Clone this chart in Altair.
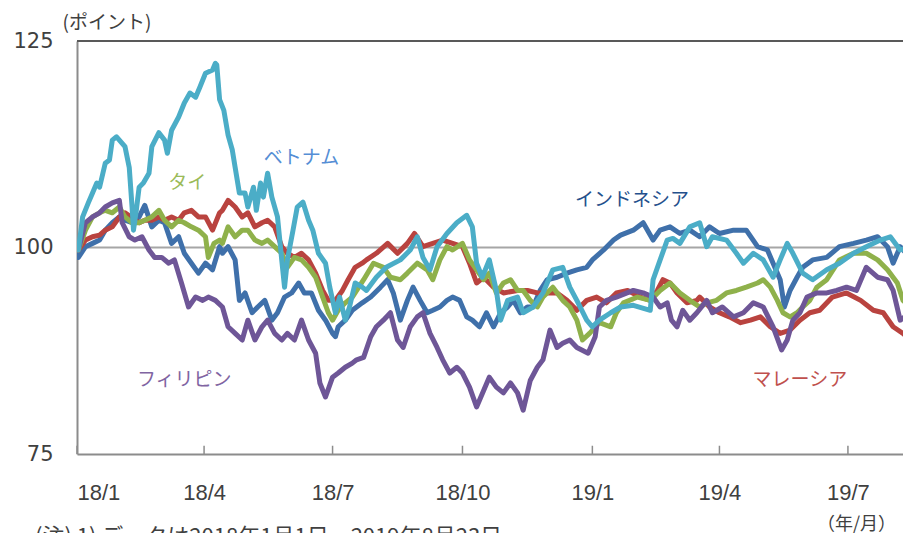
import altair as alt
import pandas as pd

# (days since 2018-01-01, index value)
vietnam = [(0,100.0),(1,99.7),(4,103.7),(8,105.4),(11,106.6),(14,107.8),(16,107.3),(20,110.2),(23,110.6),(25,113.0),(28,113.4),(32,112.6),(34,112.2),(37,109.7),(39,104.9),(40,102.1),(42,104.5),(44,107.3),(47,107.8),(51,109.0),(53,112.2),(58,113.9),(62,113.0),(64,111.4),(67,114.2),(72,115.8),(76,117.5),(80,118.7),(84,118.2),(87,119.4),(91,121.1),(96,121.5),(98,122.3),(99,122.1),(101,117.9),(104,116.6),(107,113.6),(110,111.8),(112,109.7),(115,106.6),(119,106.6),(121,104.9),(125,107.3),(127,104.5),(130,107.8),(132,106.1),(135,109.0),(138,106.1),(142,103.7),(145,98.5),(147,95.2),(149,98.5),(153,102.1),(156,104.9),(160,105.5),(164,103.3),(167,102.1),(171,99.3),(176,98.1),(179,95.2),(183,92.1),(186,94.0),(190,91.2),(193,92.8),(197,95.7),(202,95.2),(205,94.8),(212,96.4),(219,97.6),(229,98.5),(236,99.7),(241,101.3),(245,98.8),(250,97.3),(255,100.1),(262,101.7),(269,103.0),(276,103.9),(280,102.5),(283,98.1),(287,96.4),(292,98.5),(297,94.8),(300,91.2),(305,93.6),(312,94.0),(316,92.1),(323,92.8),(330,94.5),(337,97.3),(344,97.6),(349,95.2),(354,93.6),(361,91.2),(365,90.4),(370,91.2),(378,92.1),(385,92.8),(394,93.0),(406,92.4),(408,96.1),(413,98.5),(418,100.9),(422,101.1),(427,100.5),(434,102.5),(441,103.0),(446,100.1),(450,101.3),(460,100.9),(467,99.3),(472,98.1),(479,99.3),(486,98.5),(493,96.4),(498,98.5),(503,100.5),(507,99.3),(514,96.9),(521,96.1),(531,97.3),(540,98.1),(550,99.3),(559,100.1),(569,100.9),(576,101.3),(583,99.7),(590,100.1)]

indonesia = [(0,100.0),(1,98.8),(6,100.1),(11,100.5),(16,100.9),(20,102.1),(25,103.0),(30,103.7),(34,103.3),(39,103.0),(44,103.7),(48,105.1),(53,102.5),(58,103.3),(62,103.0),(67,100.5),(72,101.3),(76,99.3),(81,98.1),(86,96.9),(91,98.1),(96,97.3),(101,100.1),(103,99.3),(107,100.1),(112,98.5),(115,93.6),(119,94.5),(124,92.1),(128,92.8),(133,93.6),(138,91.2),(142,92.1),(147,94.0),(152,94.5),(157,95.7),(161,94.5),(166,94.5),(171,92.4),(176,91.2),(181,89.6),(183,89.2),(185,90.4),(190,91.2),(195,92.4),(202,93.3),(208,94.0),(215,95.2),(220,96.1),(224,94.5),(229,91.2),(234,93.6),(238,95.2),(243,93.6),(248,92.1),(252,92.4),(257,92.8),(262,93.6),(266,94.0),(271,93.6),(276,91.6),(280,91.2),(285,90.4),(290,92.1),(295,90.4),(300,92.1),(305,92.8),(309,93.6),(314,92.1),(319,92.8),(323,92.8),(328,94.8),(333,96.1),(340,96.4),(347,96.9),(354,97.3),(361,97.6),(365,98.5),(373,99.7),(380,100.9),(385,101.5),(394,102.1),(401,103.0),(408,100.9),(413,102.1),(420,102.5),(427,101.7),(434,102.1),(441,101.3),(448,102.5),(455,101.7),(465,102.1),(474,102.1),(482,100.1),(489,99.7),(493,98.1),(498,96.1),(501,92.8),(505,94.8),(510,96.4),(514,97.6),(521,98.5),(531,98.8),(540,100.1),(550,100.5),(559,100.9),(567,101.3),(574,100.1),(578,98.1),(583,100.1),(590,98.8)]

thailand = [(0,100.0),(1,99.7),(6,102.1),(11,103.7),(16,104.2),(20,104.5),(25,104.2),(30,104.9),(34,103.7),(39,103.0),(44,103.0),(48,103.3),(53,103.7),(58,104.5),(62,103.3),(67,102.5),(72,103.3),(76,103.0),(81,102.5),(86,102.1),(91,101.3),(93,98.8),(97,100.5),(101,100.9),(103,100.5),(107,102.5),(112,101.3),(117,102.1),(121,102.1),(126,100.9),(131,100.5),(135,100.9),(140,100.1),(145,99.3),(149,97.6),(154,98.8),(159,98.5),(164,97.6),(169,96.4),(174,94.0),(178,92.1),(181,91.2),(185,92.4),(190,93.3),(195,94.0),(203,96.1),(210,98.1),(217,97.6),(222,96.4),(229,96.1),(234,96.9),(241,98.1),(248,97.3),(252,96.1),(257,98.5),(262,100.1),(266,99.7),(273,100.5),(278,98.5),(283,97.3),(288,96.1),(292,96.9),(297,94.5),(302,95.7),(307,96.1),(312,94.8),(316,94.8),(321,93.6),(326,92.8),(330,94.0),(337,95.2),(344,93.6),(349,92.8),(354,91.2),(358,88.8),(363,89.6),(370,90.9),(378,90.4),(382,92.1),(387,93.3),(397,94.0),(406,93.6),(413,94.8),(420,95.7),(427,94.5),(434,93.6),(441,92.8),(446,93.3),(453,93.6),(460,94.5),(467,94.8),(474,95.2),(482,95.7),(486,96.1),(491,95.2),(496,93.6),(500,92.1),(505,91.6),(510,92.1),(514,92.8),(519,93.6),(524,95.2),(531,96.1),(540,98.5),(550,99.3),(559,99.3),(567,98.5),(574,97.3),(581,95.7),(585,93.6),(590,92.8)]

malaysia = [(0,100.0),(1,99.7),(6,100.9),(11,101.3),(16,101.5),(20,102.1),(25,102.5),(30,103.7),(34,104.2),(39,103.6),(44,103.0),(48,103.3),(53,103.3),(58,103.7),(62,103.3),(67,103.7),(72,103.3),(76,104.2),(81,104.5),(86,103.7),(91,103.7),(96,102.1),(101,104.2),(103,104.5),(107,105.7),(112,104.9),(117,103.7),(121,104.2),(126,102.5),(131,103.0),(135,103.3),(140,102.5),(145,100.1),(149,99.3),(154,98.8),(159,99.3),(164,98.5),(169,96.9),(174,94.8),(178,93.6),(183,93.6),(188,94.8),(192,96.1),(197,97.6),(202,98.1),(205,98.5),(212,99.3),(220,100.5),(227,99.3),(234,100.5),(239,101.7),(245,100.1),(252,100.5),(259,100.9),(266,100.5),(273,100.1),(278,98.1),(283,95.7),(288,96.4),(295,95.2),(302,94.5),(312,94.8),(319,94.8),(326,94.5),(333,94.5),(340,94.5),(347,93.6),(354,92.4),(361,93.6),(368,94.0),(375,93.3),(382,94.5),(390,94.8),(399,94.0),(406,93.6),(411,94.8),(415,96.1),(420,95.7),(425,94.5),(432,93.3),(439,93.6),(441,94.0),(448,92.8),(455,92.1),(462,91.6),(470,90.9),(477,91.2),(484,91.6),(491,90.4),(498,89.6),(505,90.0),(512,91.2),(519,92.1),(526,92.4),(535,94.0),(545,94.5),(555,93.6),(564,92.4),(571,92.1),(578,90.4),(585,89.6),(590,88.8)]

philippines = [(0,100.0),(1,99.7),(6,103.0),(11,103.7),(16,104.2),(20,104.9),(25,105.4),(30,105.7),(32,103.0),(37,101.3),(41,100.9),(46,101.3),(51,99.7),(55,98.8),(60,98.8),(65,98.1),(69,98.5),(74,95.7),(79,92.8),(84,94.0),(89,93.6),(93,94.0),(98,93.6),(103,92.8),(107,90.4),(112,89.6),(117,88.8),(121,91.2),(126,88.8),(131,90.4),(135,91.2),(140,89.6),(145,88.8),(149,89.6),(154,88.8),(159,91.2),(164,88.8),(169,87.2),(172,83.6),(176,81.9),(181,84.3),(185,84.8),(190,85.5),(195,86.0),(198,86.4),(203,86.7),(208,89.2),(212,90.4),(217,91.2),(222,92.1),(227,88.8),(231,87.9),(236,90.4),(241,91.6),(245,92.1),(250,89.6),(255,87.9),(259,86.4),(264,84.8),(269,85.5),(273,84.8),(278,83.1),(283,80.7),(288,82.7),(292,84.3),(297,83.1),(302,82.4),(307,83.6),(312,82.4),(316,80.3),(321,83.9),(326,85.5),(330,86.4),(335,90.0),(340,87.9),(344,88.4),(349,88.8),(354,87.9),(362,87.2),(367,89.2),(370,92.8),(375,93.6),(382,94.0),(394,94.8),(401,94.5),(408,94.0),(413,92.8),(418,93.3),(421,91.2),(425,90.4),(429,92.4),(434,91.2),(439,92.1),(446,93.6),(450,92.1),(457,92.8),(465,91.6),(472,92.1),(479,93.3),(486,92.8),(493,90.4),(499,87.6),(503,88.8),(507,91.2),(512,92.1),(517,94.0),(524,94.5),(531,94.5),(538,94.8),(545,95.2),(552,94.8),(559,97.6),(567,96.4),(574,96.1),(578,94.8),(583,91.2),(590,92.1)]

series_names = ["インドネシア", "マレーシア", "タイ", "フィリピン", "ベトナム"]
series_data = [indonesia, malaysia, thailand, philippines, vietnam]
series_colors = ["#3F70AA", "#B9433F", "#8FB14B", "#6E5697", "#4BADC7"]

label_texts = ["ベトナム", "タイ", "インドネシア", "フィリピン", "マレーシア"]
label_days = [159, 78, 393, 76, 512]
label_values = [110.8, 107.8, 105.7, 83.9, 83.9]
label_colors = ["#558ED5", "#9BBB59", "#24508C", "#8064A2", "#C0504D"]

tick_dates = ["2018-01-01", "2018-04-01", "2018-07-01", "2018-10-01",
              "2019-01-01", "2019-04-01", "2019-07-01"]
tick_labels = ["18/1", "18/4", "18/7", "18/10", "19/1", "19/4", "19/7"]
y_ticks = [75, 100, 125]

note_text = "(注) 1) データは2018年1月1日～2019年8月23日"

start = pd.Timestamp("2018-01-01")


def to_date(days):
    return (start + pd.to_timedelta(days, unit="D")).strftime("%Y-%m-%d")


def dt(s):
    t = pd.Timestamp(s)
    return alt.DateTime(year=t.year, month=t.month, date=t.day, utc=True)


x_scale = alt.Scale(type="utc", domain=[dt("2018-01-01"), dt("2019-08-09")])
y_scale = alt.Scale(domain=[75, 125])

label_map = "{" + ",".join(
    f"'{pd.Timestamp(d).strftime('%Y-%m')}':'{l}'" for d, l in zip(tick_dates, tick_labels)
) + "}"

x_axis = alt.Axis(
    values=[dt(d) for d in tick_dates],
    labelExpr=f"{label_map}[utcFormat(datum.value, '%Y-%m')]",
    ticks=False, grid=False, domainColor="#8C8C8C", domainWidth=2,
    labelFont="Liberation Sans", labelFontSize=22, labelColor="#404040",
    labelPadding=28,
    title="（年/月）", titleFont="Noto Sans CJK JP", titleFontSize=18,
    titleFontWeight="normal", titleColor="#404040",
    titleAlign="center", titleBaseline="middle", titleX=779, titleY=70,
)
y_axis = alt.Axis(
    values=y_ticks, ticks=False, grid=False, domainColor="#8C8C8C", domainWidth=2,
    labelFont="DejaVu Sans", labelFontSize=21, labelColor="#404040", labelPadding=24,
    title="(ポイント)", titleFont="Noto Sans CJK JP", titleFontSize=19,
    titleFontWeight="normal", titleColor="#404040", titleAngle=0,
    titleAlign="left", titleBaseline="middle", titleX=-15, titleY=-19,
)

layers = []

# frame line at the top and reference line at 100
top_rule = alt.Chart(pd.DataFrame({"v": [125]})).mark_rule(
    color="#595959", strokeWidth=2).encode(y=alt.Y("v:Q", scale=y_scale, axis=y_axis))
ref_rule = alt.Chart(pd.DataFrame({"v": [100]})).mark_rule(
    color="#A6A6A6", strokeWidth=2).encode(y=alt.Y("v:Q", scale=y_scale))
tick_df = pd.DataFrame({"date": tick_dates, "y0": [75] * len(tick_dates), "y1": [76] * len(tick_dates)})
ticks = alt.Chart(tick_df).mark_rule(color="#8C8C8C", strokeWidth=1.5).encode(
    x=alt.X("date:T", scale=x_scale, axis=x_axis),
    y=alt.Y("y0:Q", scale=y_scale),
    y2="y1:Q",
)
layers += [top_rule, ref_rule, ticks]

for name, data, color in zip(series_names, series_data, series_colors):
    df = pd.DataFrame({
        "date": [to_date(d) for d, _ in data],
        "value": [v for _, v in data],
        "series": name,
    })
    layers.append(
        alt.Chart(df).mark_line(color=color, strokeWidth=5, strokeJoin="round", clip=True).encode(
            x=alt.X("date:T", scale=x_scale),
            y=alt.Y("value:Q", scale=y_scale),
        )
    )

lab_df = pd.DataFrame({
    "date": [to_date(d) for d in label_days],
    "value": label_values,
    "text": label_texts,
    "color": label_colors,
})
labels = alt.Chart(lab_df).mark_text(
    font="Noto Sans CJK JP", fontSize=19, align="center", baseline="middle"
).encode(
    x=alt.X("date:T", scale=x_scale),
    y=alt.Y("value:Q", scale=y_scale),
    text="text:N",
    color=alt.Color("color:N", scale=None),
)
layers.append(labels)

note = alt.Chart(pd.DataFrame({"t": [note_text]})).mark_text(
    font="Noto Sans CJK JP", fontSize=22, align="left", baseline="top", color="#404040"
).encode(x=alt.value(-42), y=alt.value(486), text="t:N")
layers.append(note)

chart = alt.layer(*layers).properties(
    width=826, height=413,
    autosize=alt.AutoSizeParams(type="none"),
    padding={"left": 69, "top": 33, "right": 0, "bottom": 79},
    background="white",
).configure_view(stroke=None)

chart.save("out.html", embed_options={"renderer": "svg", "actions": False})
